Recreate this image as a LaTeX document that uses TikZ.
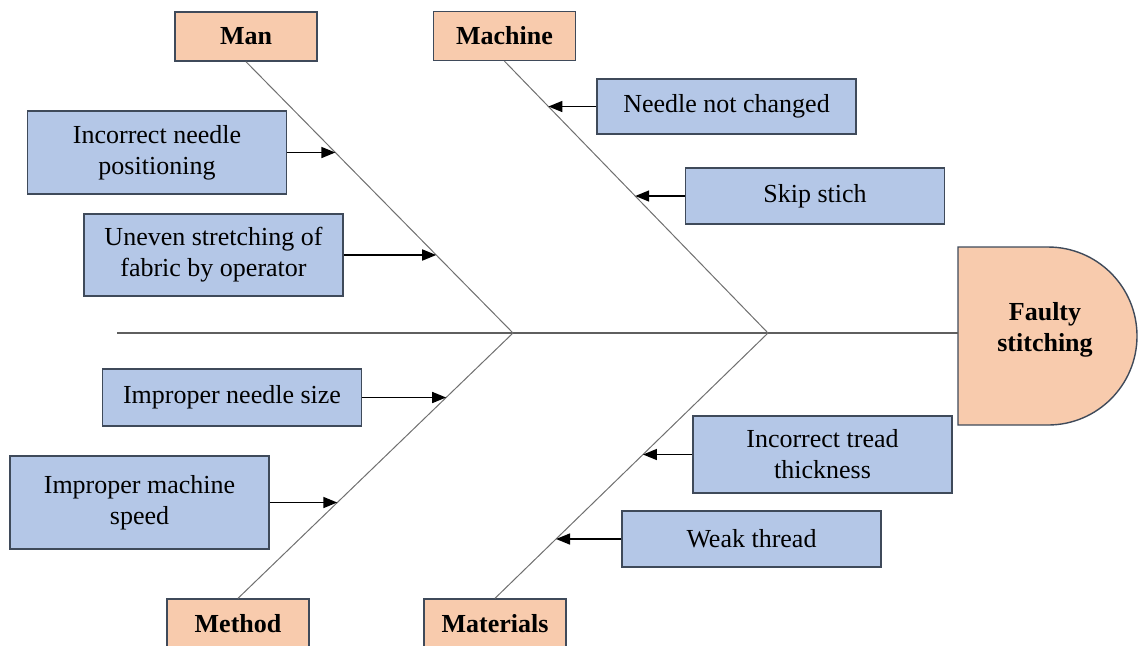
\documentclass[tikz,border=0pt]{standalone}
\usepackage{fontspec}
\setmainfont{Liberation Serif}
\usetikzlibrary{arrows.meta, intersections}
\definecolor{catpeach}{HTML}{F8CBAD}
\definecolor{causeblue}{HTML}{B4C7E7}
\definecolor{boxline}{HTML}{3F4A5A}
\definecolor{bonegray}{HTML}{707070}

\begin{document}
\begin{tikzpicture}[x=0.5pt, y=-0.5pt,
  category/.style={rectangle, draw=boxline, line width=0.7pt, fill=catpeach, minimum width=71pt, minimum height=24.5pt, font=\fontsize{13}{15.5}\selectfont\bfseries},
  cause/.style={rectangle, draw=boxline, line width=0.7pt, fill=causeblue, minimum width=129.5pt, align=center, font=\fontsize{13}{15.5}\selectfont},
  bone/.style={draw=bonegray, line width=0.5pt},
  spine/.style={draw=bonegray!85!black, line width=1pt},
  arrow/.style={-{Triangle[length=7pt, width=5.5pt]}, line width=0.8pt}
]
\useasboundingbox (0,0) rectangle (1138,645);

% Categories
\node[category] (man) at (246,36.5) {Man};
\node[category] (machine) at (504.5,36) {Machine};
\node[category] (method) at (238,623.5) {Method};
\node[category] (materials) at (495,623.5) {Materials};

% Effect head
\coordinate (headL) at (958,333);
\draw[draw=boxline, line width=0.7pt, fill=catpeach] (958,247) -- (1048,247) arc[start angle=-90, end angle=90, radius=89] -- (958,425) -- cycle;
\node[font=\fontsize{13}{15.5}\selectfont\bfseries, align=center] (effect) at (1045,330) {Faulty\\stitching};

% Spine and bones
\coordinate (tail) at (117,333);
\coordinate (j1) at (513,333);
\coordinate (j2) at (768,333);
\draw[spine] (tail) -- (headL);
\draw[bone, name path=bman] (man.south) -- (j1);
\draw[bone, name path=bmachine] (machine.south) -- (j2);
\draw[bone, name path=bmethod] (method.north) -- (j1);
\draw[bone, name path=bmaterials] (materials.north) -- (j2);

% Causes
\node[cause, minimum height=41.5pt] (c1) at (157,152.5) {Incorrect needle\\positioning};
\node[cause, minimum height=41pt] (c2) at (213.5,255) {Uneven stretching of\\fabric by operator};
\node[cause, minimum height=27.5pt] (c3) at (726.5,106.5) {Needle not changed};
\node[cause, minimum height=28pt] (c4) at (815,196) {Skip stich};
\node[cause, minimum height=28.5pt] (c5) at (232,397.5) {Improper needle size};
\node[cause, minimum height=46.5pt] (c6) at (139.5,502.5) {Improper machine\\speed};
\node[cause, minimum height=38.5pt] (c7) at (822.5,454.5) {Incorrect tread\\thickness};
\node[cause, minimum height=28pt] (c8) at (751.5,539) {Weak thread};

% Cause arrows
\path[name path=h1] (c1.east) -- ++(300,0);
\draw[arrow, name intersections={of=h1 and bman, by=t1}] (c1.east) -- (t1);
\path[name path=h2] (c2.east) -- ++(300,0);
\draw[arrow, name intersections={of=h2 and bman, by=t2}] (c2.east) -- (t2);
\path[name path=h3] (c3.west) -- ++(-300,0);
\draw[arrow, name intersections={of=h3 and bmachine, by=t3}] (c3.west) -- (t3);
\path[name path=h4] (c4.west) -- ++(-300,0);
\draw[arrow, name intersections={of=h4 and bmachine, by=t4}] (c4.west) -- (t4);
\path[name path=h5] (c5.east) -- ++(300,0);
\draw[arrow, name intersections={of=h5 and bmethod, by=t5}] (c5.east) -- (t5);
\path[name path=h6] (c6.east) -- ++(300,0);
\draw[arrow, name intersections={of=h6 and bmethod, by=t6}] (c6.east) -- (t6);
\path[name path=h7] (c7.west) -- ++(-300,0);
\draw[arrow, name intersections={of=h7 and bmaterials, by=t7}] (c7.west) -- (t7);
\path[name path=h8] (c8.west) -- ++(-300,0);
\draw[arrow, name intersections={of=h8 and bmaterials, by=t8}] (c8.west) -- (t8);

\end{tikzpicture}
\end{document}
